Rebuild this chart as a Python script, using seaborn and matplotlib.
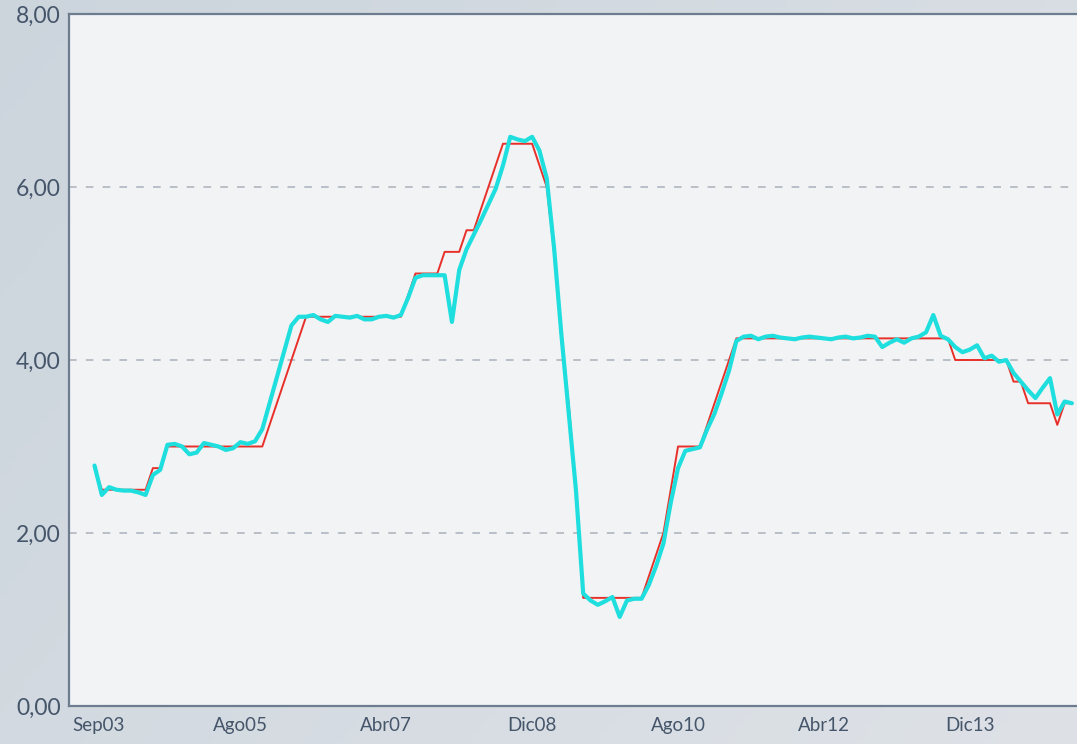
#!/usr/bin/env python3
# -*- coding: utf-8 -*-
"""
Tasa de referencia vs tasa interbancaria (serie mensual).
Recrea el grafico de lineas con seaborn y lo guarda en out.png.
"""

import numpy as np
import pandas as pd
import matplotlib
matplotlib.use("Agg")
import matplotlib.pyplot as plt
from matplotlib.ticker import FuncFormatter
import seaborn as sns

# Meses contados desde Sep03 (= 0); la serie empieza en Dic03
mes = np.arange(3, 138)

# Tasa de referencia (linea roja, escalonada)
tasa_referencia = [
    2.75,
    2.50, 2.50, 2.50, 2.50, 2.50, 2.50, 2.50,
    2.75, 2.75,
    3.00, 3.00, 3.00, 3.00, 3.00, 3.00, 3.00, 3.00, 3.00, 3.00, 3.00, 3.00, 3.00, 3.00,
    3.25, 3.50, 3.75, 4.00, 4.25,
    4.50, 4.50, 4.50, 4.50, 4.50, 4.50, 4.50, 4.50, 4.50, 4.50, 4.50, 4.50, 4.50, 4.50,
    4.75,
    5.00, 5.00, 5.00, 5.00,
    5.25, 5.25, 5.25,
    5.50, 5.50,
    5.75, 6.00, 6.25,
    6.50, 6.50, 6.50, 6.50, 6.50,
    6.25, 6.00, 5.25, 4.25, 3.50, 2.50,
    1.25, 1.25, 1.25, 1.25, 1.25, 1.25, 1.25, 1.25, 1.25,
    1.50, 1.75, 2.00, 2.50,
    3.00, 3.00, 3.00, 3.00,
    3.25, 3.50, 3.75, 4.00,
    4.25, 4.25, 4.25, 4.25, 4.25, 4.25, 4.25, 4.25, 4.25, 4.25,
    4.25, 4.25, 4.25, 4.25, 4.25, 4.25, 4.25, 4.25, 4.25, 4.25,
    4.25, 4.25, 4.25, 4.25, 4.25, 4.25, 4.25, 4.25, 4.25, 4.25,
    4.00, 4.00, 4.00, 4.00, 4.00, 4.00, 4.00, 4.00,
    3.75, 3.75,
    3.50, 3.50, 3.50, 3.50,
    3.25,
    3.50, 3.50,
]

# Tasa interbancaria (linea cian)
tasa_interbancaria = [
    2.78, 2.44, 2.53, 2.50, 2.49, 2.49, 2.47, 2.44, 2.67, 2.73,
    3.02, 3.03, 3.00, 2.91, 2.93, 3.04, 3.02, 3.00, 2.96, 2.98,
    3.05, 3.03, 3.06, 3.20, 3.50, 3.80, 4.10, 4.40, 4.50, 4.50,
    4.52, 4.47, 4.44, 4.51, 4.50, 4.49, 4.51, 4.47, 4.47, 4.50,
    4.51, 4.49, 4.52, 4.72, 4.95, 4.98, 4.98, 4.98, 4.98, 4.44,
    5.04, 5.28, 5.45, 5.62, 5.80, 5.98, 6.25, 6.58, 6.55, 6.53,
    6.58, 6.42, 6.10, 5.30, 4.30, 3.40, 2.50, 1.30, 1.22, 1.17,
    1.21, 1.26, 1.03, 1.22, 1.24, 1.24, 1.40, 1.62, 1.88, 2.35,
    2.75, 2.95, 2.97, 2.99, 3.20, 3.38, 3.62, 3.88, 4.22, 4.27,
    4.28, 4.24, 4.27, 4.28, 4.26, 4.25, 4.24, 4.26, 4.27, 4.26,
    4.25, 4.24, 4.26, 4.27, 4.25, 4.26, 4.28, 4.27, 4.15, 4.20,
    4.24, 4.20, 4.25, 4.27, 4.32, 4.52, 4.28, 4.24, 4.15, 4.09,
    4.12, 4.17, 4.02, 4.05, 3.98, 4.00, 3.85, 3.75, 3.65, 3.56,
    3.68, 3.79, 3.37, 3.52, 3.50,
]

# Etiquetas del eje x (mes desde Sep03)
tick_meses = [0, 23, 43, 63, 83, 103, 123]
tick_etiquetas = ["Sep03", "Ago05", "Abr07", "Dic08", "Ago10", "Abr12", "Dic13"]
y_ticks = [0, 2, 4, 6, 8]

TEXT_COLOR = "#45556a"
SPINE_COLOR = "#6d7c8e"


def add_background(fig):
    """Fondo gris azulado con un degradado suave."""
    bg = fig.add_axes([0, 0, 1, 1], zorder=-10)
    xx, yy = np.meshgrid(np.linspace(0, 1, 200), np.linspace(0, 1, 200))
    t = 0.65 * xx + 0.35 * yy
    start = np.array([0.80, 0.835, 0.865])
    end = np.array([0.870, 0.885, 0.905])
    img = start[None, None, :] * (1 - t[..., None]) + end[None, None, :] * t[..., None]
    bg.imshow(img, extent=[0, 1, 0, 1], aspect="auto")
    bg.set_axis_off()


def main():
    sns.set_theme(style="white")
    plt.rcParams["font.family"] = ["Lato", "DejaVu Sans"]

    df = pd.DataFrame({
        "mes": mes,
        "referencia": tasa_referencia,
        "interbancaria": tasa_interbancaria,
    })

    fig = plt.figure(figsize=(10.77, 7.44), dpi=100)
    add_background(fig)
    ax = fig.add_axes([69 / 1077, 38 / 744, 1 - 69 / 1077, 692 / 744])
    ax.set_facecolor("#f1f3f5")

    sns.lineplot(data=df, x="mes", y="referencia", color="#e8302a",
                 linewidth=1.4, ax=ax, zorder=3)
    sns.lineplot(data=df, x="mes", y="interbancaria", color="#1fdede",
                 linewidth=3.0, ax=ax, zorder=4)

    ax.set_xlim(-0.5, 137.7)
    ax.set_ylim(0, 8)
    ax.set_xlabel("")
    ax.set_ylabel("")

    ax.set_yticks(y_ticks)
    ax.yaxis.set_major_formatter(FuncFormatter(lambda v, _: f"{v:.2f}".replace(".", ",")))
    ax.set_xticks(tick_meses)
    ax.set_xticklabels(tick_etiquetas)
    ax.tick_params(axis="y", length=0, pad=6, labelsize=16.5, labelcolor=TEXT_COLOR)
    ax.tick_params(axis="x", length=0, pad=8, labelsize=13.5, labelcolor=TEXT_COLOR)
    ax.get_xticklabels()[0].set_horizontalalignment("left")

    # lineas guia discontinuas
    ax.yaxis.grid(True, color="#a9b1bb", linestyle=(0, (5, 6)), linewidth=1.1)
    ax.xaxis.grid(False)
    ax.set_axisbelow(True)

    for side in ["left", "bottom", "top"]:
        ax.spines[side].set_color(SPINE_COLOR)
        ax.spines[side].set_linewidth(1.6)
    ax.spines["right"].set_visible(False)

    fig.savefig("out.png", dpi=100)
    plt.close(fig)


if __name__ == "__main__":
    main()
